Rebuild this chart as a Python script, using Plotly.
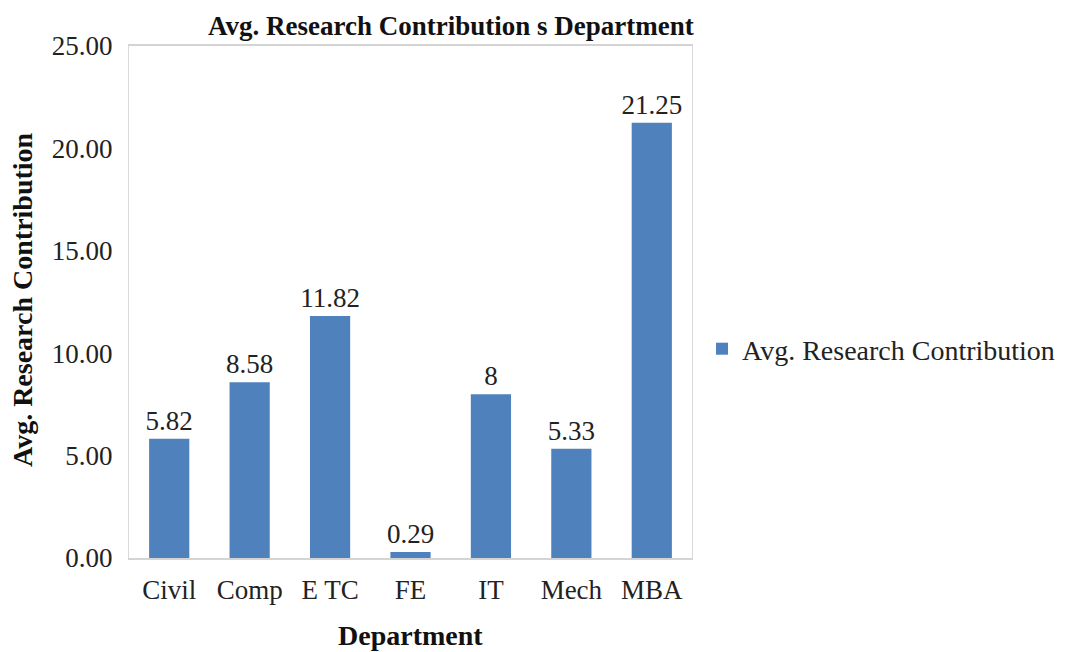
import plotly.graph_objects as go

departments = ["Civil", "Comp", "E TC", "FE", "IT", "Mech", "MBA"]
avg_contribution = [5.82, 8.58, 11.82, 0.29, 8, 5.33, 21.25]
value_labels = ["5.82", "8.58", "11.82", "0.29", "8", "5.33", "21.25"]
y_ticks = [0, 5, 10, 15, 20, 25]

SERIF = "Liberation Serif, Times New Roman, serif"
TXT = "#222222"

# the page body has an 8px margin, so work in figure coordinates = ref - 8
OFF = 8
W, H = 1079 - OFF, 652 - OFF
L, R, T, B = 129 - OFF, 692 - OFF, 46 - OFF, 558 - OFF

def px(x):
    return (x - OFF - L) / (R - L)

def py(y):
    return (B - (y - OFF)) / (B - T)

fig = go.Figure()
fig.add_trace(go.Bar(
    x=departments,
    y=avg_contribution,
    name="Avg. Research Contribution",
    marker=dict(color="#4F81BD", line=dict(width=0)),
    text=value_labels,
    textposition="outside",
    constraintext="none",
    textfont=dict(family=SERIF, size=27, color=TXT),
    cliponaxis=False,
))

fig.update_layout(
    width=W, height=H,
    margin=dict(l=L, r=W - R, t=T, b=H - B),
    plot_bgcolor="white",
    paper_bgcolor="white",
    bargap=0.5,
    showlegend=True,
    legend=dict(
        x=px(702), y=py(349),
        xanchor="left", yanchor="middle",
        font=dict(family=SERIF, size=28, color=TXT),
        itemwidth=30, tracegroupgap=0,
    ),
    font=dict(family=SERIF, color=TXT),
    xaxis=dict(
        showline=True, linecolor="#D4D4D4", linewidth=1.5, mirror=True,
        ticks="outside", ticklen=7, tickcolor="rgba(0,0,0,0)",
        tickfont=dict(family=SERIF, size=27, color=TXT),
        showgrid=False,
    ),
    yaxis=dict(
        range=[0, 25], tickvals=y_ticks, tickformat=".2f",
        showline=True, linecolor="#D9D9D9", linewidth=1, mirror=True,
        ticks="outside", ticklen=10, tickcolor="rgba(0,0,0,0)",
        tickfont=dict(family=SERIF, size=27, color=TXT),
        showgrid=False, zeroline=False,
    ),
    annotations=[
        dict(text="<b>Avg. Research Contribution s Department</b>",
             xref="paper", yref="paper",
             x=px(451), y=py(26),
             xanchor="center", yanchor="middle", showarrow=False,
             font=dict(family=SERIF, size=27, color="#111111")),
        dict(text="<b>Department</b>",
             xref="paper", yref="paper",
             x=px(410), y=py(635),
             xanchor="center", yanchor="middle", showarrow=False,
             font=dict(family=SERIF, size=28, color="#111111")),
        dict(text="<b>Avg. Research Contribution</b>",
             xref="paper", yref="paper",
             x=px(22), y=py(300),
             xanchor="center", yanchor="middle", showarrow=False,
             textangle=-90,
             font=dict(family=SERIF, size=28, color="#111111")),
    ],
)

fig.write_html("out.html")
